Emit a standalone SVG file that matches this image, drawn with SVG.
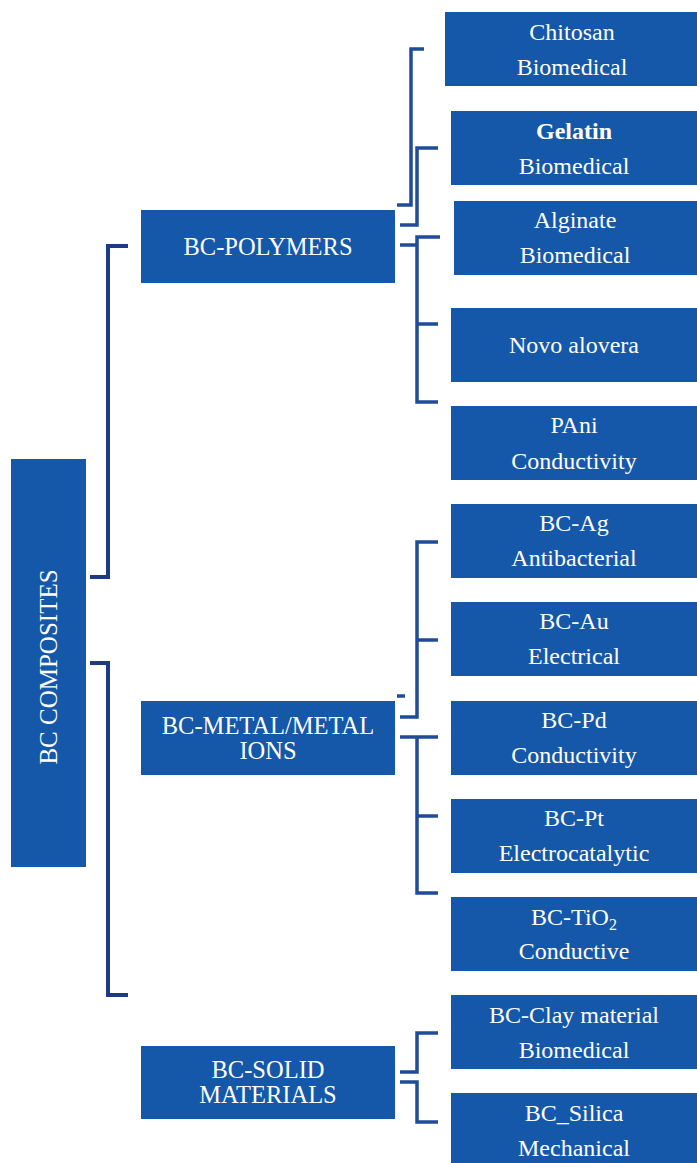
<svg xmlns="http://www.w3.org/2000/svg" width="697" height="1163" viewBox="0 0 697 1163">
<style>
.box{fill:#1557A8;}
.t{fill:#ffffff;font-size:24px;text-anchor:middle;font-family:'Liberation Serif','Times New Roman',serif;}
.m{font-size:24.5px;}
.lc{fill:none;stroke:#1E4C9A;stroke-width:3.5;}
.ll{fill:none;stroke:#1B3C82;stroke-width:4;}
</style>
<rect width="697" height="1163" fill="#ffffff"/>
<g id="connectors">
<path class="ll" d="M128,246 H108 V577 H90"/>
<path class="ll" d="M90,663 H108 V995 H128"/>
<path class="lc" d="M424,49 H411 V205 H397"/>
<path class="lc" d="M438,148 H417 V225 H400"/>
<path class="lc" d="M440,237 H417 V402 H438 M400,245 H417 M417,324 H438"/>
<path class="lc" d="M438,542 H417 V717 H400 M417,640 H438 M397,696 H405"/>
<path class="lc" d="M400,737 H438 M417,737 V893 H438 M417,816 H438"/>
<path class="lc" d="M438,1033 H417 V1072 H400"/>
<path class="lc" d="M400,1082 H417 V1122 H438"/>
</g>
<g id="root">
<rect class="box" x="11" y="459" width="75" height="408"/>
<text class="t" transform="translate(48.5,667) rotate(-90)" y="8" style="font-size:25px">BC COMPOSITES</text>
</g>
<g id="bc-polymers">
<rect class="box" x="141" y="210" width="254" height="73"/>
<text class="t m" x="268" y="255">BC-POLYMERS</text>
</g>
<g id="bc-metal">
<rect class="box" x="141" y="701" width="254" height="74"/>
<text class="t m" x="268" y="734">BC-METAL/METAL</text>
<text class="t m" x="268" y="759">IONS</text>
</g>
<g id="bc-solid">
<rect class="box" x="141" y="1046" width="254" height="73"/>
<text class="t m" x="268" y="1078">BC-SOLID</text>
<text class="t m" x="268" y="1103">MATERIALS</text>
</g>
<g id="chitosan">
<rect class="box" x="445" y="12" width="252" height="74"/>
<text class="t" x="572" y="40">Chitosan</text>
<text class="t" x="572" y="75">Biomedical</text>
</g>
<g id="gelatin">
<rect class="box" x="451" y="111" width="246" height="74"/>
<text class="t" x="574" y="139" font-weight="bold">Gelatin</text>
<text class="t" x="574" y="174">Biomedical</text>
</g>
<g id="alginate">
<rect class="box" x="454" y="201" width="243" height="74"/>
<text class="t" x="575" y="228">Alginate</text>
<text class="t" x="575" y="263">Biomedical</text>
</g>
<g id="novo-alovera">
<rect class="box" x="451" y="308" width="246" height="74"/>
<text class="t" x="574" y="353">Novo alovera</text>
</g>
<g id="pani">
<rect class="box" x="451" y="406" width="246" height="74"/>
<text class="t" x="574" y="433">PAni</text>
<text class="t" x="574" y="469">Conductivity</text>
</g>
<g id="bc-ag">
<rect class="box" x="451" y="504" width="246" height="74"/>
<text class="t" x="574" y="531">BC-Ag</text>
<text class="t" x="574" y="566">Antibacterial</text>
</g>
<g id="bc-au">
<rect class="box" x="451" y="602" width="246" height="74"/>
<text class="t" x="574" y="629">BC-Au</text>
<text class="t" x="574" y="664">Electrical</text>
</g>
<g id="bc-pd">
<rect class="box" x="451" y="701" width="246" height="74"/>
<text class="t" x="574" y="728">BC-Pd</text>
<text class="t" x="574" y="763">Conductivity</text>
</g>
<g id="bc-pt">
<rect class="box" x="451" y="799" width="246" height="74"/>
<text class="t" x="574" y="826">BC-Pt</text>
<text class="t" x="574" y="861">Electrocatalytic</text>
</g>
<g id="bc-tio2">
<rect class="box" x="451" y="897" width="246" height="74"/>
<text class="t" x="574" y="925">BC-TiO<tspan font-size="16" dy="5">2</tspan></text>
<text class="t" x="574" y="959">Conductive</text>
</g>
<g id="bc-clay">
<rect class="box" x="451" y="995" width="246" height="74"/>
<text class="t" x="574" y="1023">BC-Clay material</text>
<text class="t" x="574" y="1058">Biomedical</text>
</g>
<g id="bc-silica">
<rect class="box" x="451" y="1093" width="246" height="70"/>
<text class="t" x="574" y="1121">BC_Silica</text>
<text class="t" x="574" y="1156">Mechanical</text>
</g>
</svg>
